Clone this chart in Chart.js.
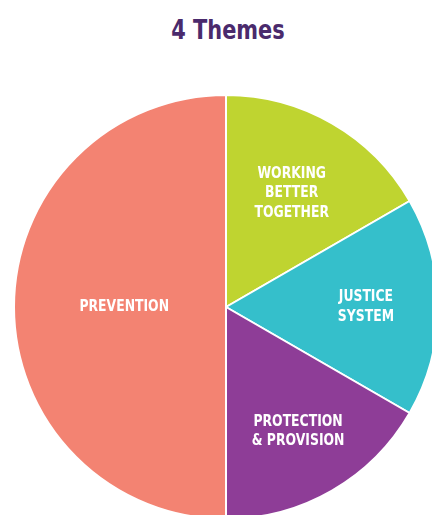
<!DOCTYPE html>
<html>
<head>
<meta charset="utf-8">
<script src="https://cdn.jsdelivr.net/npm/chart.js@4"></script>
<style>
  html, body { margin: 0; padding: 0; background: #fff; overflow: hidden; width: 432px; height: 515px; }
  #title {
    position: absolute; left: 0; top: 13px; width: 456px; text-align: center;
    font-family: "DejaVu Sans Condensed", "DejaVu Sans", sans-serif; font-weight: bold;
    font-size: 27px; color: #4a2a6c; line-height: 34px;
    transform: scaleX(0.86); transform-origin: 228px 0;
  }
  #wrap { position: absolute; left: 11px; top: 92px; width: 430px; height: 430px; }
</style>
</head>
<body>
<div id="title">4 Themes</div>
<div id="wrap"><canvas id="themesChart"></canvas></div>
<script>
// themes, clockwise from 12 o'clock
const themes = [
  ['WORKING', 'BETTER', 'TOGETHER'],
  ['JUSTICE', 'SYSTEM'],
  ['PROTECTION', '& PROVISION'],
  ['PREVENTION']
];
const shares = [1, 1, 1, 3];
const colours = ['#bfd430', '#35bfcb', '#8e3d97', '#f38372'];

// where along the radius each label sits (fraction of outer radius)
const labelRadius = [0.62, 0.66, 0.68, 0.48];

const sliceLabels = {
  id: 'sliceLabels',
  afterDatasetsDraw(chart) {
    const ctx = chart.ctx;
    const meta = chart.getDatasetMeta(0);
    const squeeze = 0.92;
    ctx.save();
    ctx.fillStyle = '#ffffff';
    ctx.font = 'bold 15px "DejaVu Sans Condensed", "DejaVu Sans", sans-serif';
    ctx.textAlign = 'center';
    ctx.textBaseline = 'middle';
    meta.data.forEach(function (arc, i) {
      const p = arc.getProps(['x', 'y', 'startAngle', 'endAngle', 'outerRadius'], true);
      const mid = (p.startAngle + p.endAngle) / 2;
      const r = p.outerRadius * labelRadius[i];
      const cx = p.x + Math.cos(mid) * r;
      const cy = p.y + Math.sin(mid) * r;
      const lines = themes[i];
      const lh = 19.5;
      lines.forEach(function (line, j) {
        ctx.save();
        ctx.translate(cx, cy + (j - (lines.length - 1) / 2) * lh);
        ctx.scale(squeeze, 1);
        ctx.fillText(line, 0, 0);
        ctx.restore();
      });
    });
    ctx.restore();
  }
};

const ctx = document.getElementById('themesChart').getContext('2d');
const themesChart = new Chart(ctx, {
  type: 'pie',
  data: {
    labels: themes.map(t => t.join(' ')),
    datasets: [{
      data: shares,
      backgroundColor: colours,
      borderColor: '#ffffff',
      borderWidth: 2
    }]
  },
  options: {
    responsive: true,
    maintainAspectRatio: false,
    animation: false,
    layout: { padding: 2 },
    plugins: {
      legend: { display: false },
      tooltip: { enabled: false }
    }
  },
  plugins: [sliceLabels]
});
</script>
</body>
</html>
